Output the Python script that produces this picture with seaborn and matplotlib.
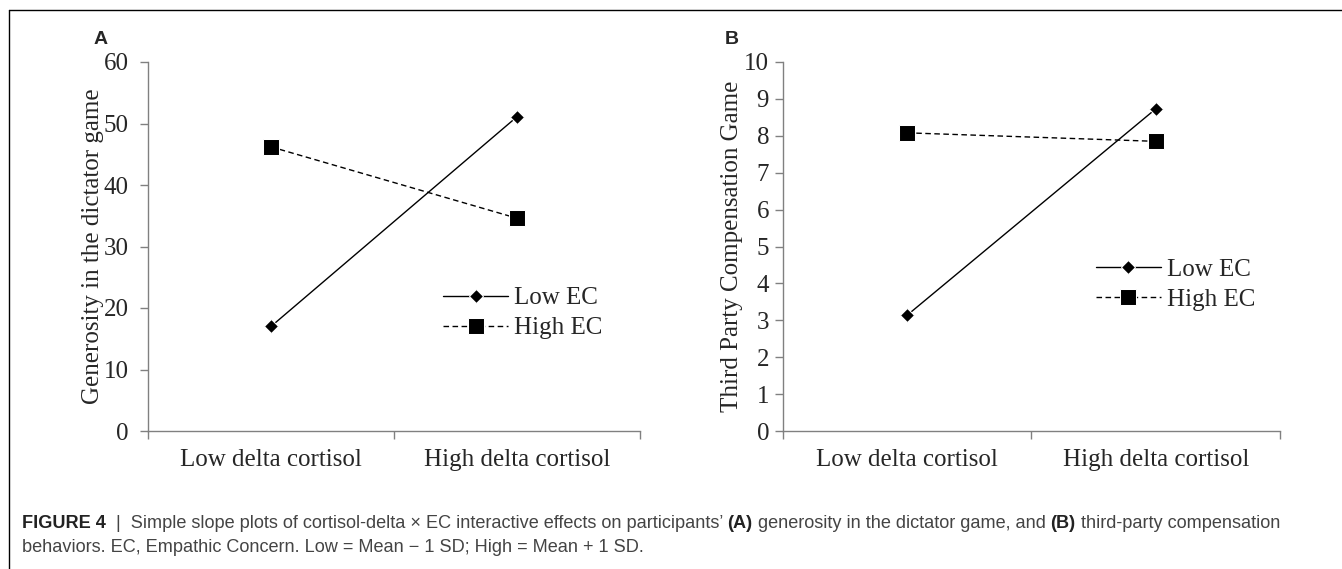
import pandas as pd
import matplotlib.pyplot as plt
import seaborn as sns

# Data
cortisol = ['Low delta cortisol', 'High delta cortisol']
groups = ['Low EC', 'High EC']
dictator_low_ec = [17.0, 51.1]
dictator_high_ec = [46.2, 34.6]
tpc_low_ec = [3.14, 8.73]
tpc_high_ec = [8.08, 7.85]


def make_df(low, high):
    rows = []
    for i, c in enumerate(cortisol):
        rows.append({'x': i, 'cortisol': c, 'group': 'Low EC', 'value': low[i]})
    for i, c in enumerate(cortisol):
        rows.append({'x': i, 'cortisol': c, 'group': 'High EC', 'value': high[i]})
    return pd.DataFrame(rows)


df_a = make_df(dictator_low_ec, dictator_high_ec)
df_b = make_df(tpc_low_ec, tpc_high_ec)

sns.set_style('white')
plt.rcParams['font.family'] = ['Liberation Serif', 'DejaVu Serif']

W, H = 1342, 569
fig = plt.figure(figsize=(W / 100, H / 100), dpi=100)
ax_a = fig.add_axes([148 / W, 1 - 431 / H, (640 - 148) / W, (431 - 62) / H])
ax_b = fig.add_axes([783 / W, 1 - 431 / H, (1280 - 783) / W, (431 - 62) / H])

markers = {'Low EC': 'D', 'High EC': 's'}
dashes = {'Low EC': '', 'High EC': (4, 2.5)}
palette = {'Low EC': 'black', 'High EC': 'black'}


def draw(ax, df, ymax, step, ylabel, legend_xy, ypad, lpad):
    sns.lineplot(data=df, x='x', y='value', hue='group', style='group',
                 markers=markers, dashes=dashes, palette=palette,
                 hue_order=groups, style_order=groups,
                 linewidth=1.0, markersize=9, ax=ax)
    for line in ax.get_lines():
        if line.get_marker() == 's':
            line.set_markersize(11)
        elif line.get_marker() == 'D':
            line.set_markersize(7.5)
    ax.set_xlim(-0.5, 1.5)
    ax.set_ylim(0, ymax)
    ax.set_yticks(range(0, ymax + 1, step))
    ax.set_xticks([-0.5, 0.5, 1.5])
    ax.set_xticklabels([])
    ax.set_xticks([0, 1], minor=True)
    ax.set_xticklabels(cortisol, minor=True)
    ax.tick_params(axis='x', which='major', direction='out', length=6,
                   width=1, color='#808080', bottom=True)
    ax.tick_params(axis='x', which='minor', length=0, pad=13, labelsize=18)
    ax.tick_params(axis='y', direction='out', length=6, width=1,
                   color='#808080', left=True, labelsize=18, pad=ypad)
    for s in ['top', 'right']:
        ax.spines[s].set_visible(False)
    for s in ['left', 'bottom']:
        ax.spines[s].set_color('#808080')
        ax.spines[s].set_linewidth(1.0)
    ax.set_xlabel('')
    ax.set_ylabel(ylabel, fontsize=18, labelpad=lpad)
    handles, labels = ax.get_legend_handles_labels()
    ax.legend(handles=handles, labels=labels, loc='center left',
              bbox_to_anchor=legend_xy, frameon=False, fontsize=18,
              handlelength=2.6, handletextpad=0.25, labelspacing=0.3,
              borderpad=0, borderaxespad=0)


draw(ax_a, df_a, 60, 10, 'Generosity in the dictator game',
     ((443 - 148) / 492, 1 - (313 - 62) / 369), 8, 0)
draw(ax_b, df_b, 10, 1, 'Third Party Compensation Game',
     ((1096 - 783) / 497, 1 - (285 - 62) / 369), 4, 1)

sans = ['Liberation Sans', 'DejaVu Sans']
fig.text(94 / W, 1 - 40 / H, 'A', fontsize=14, fontweight='bold',
         family=sans, va='center', ha='left')
fig.text(725 / W, 1 - 40 / H, 'B', fontsize=14, fontweight='bold',
         family=sans, va='center', ha='left')

# frame lines (left and top)
fig.add_artist(plt.Line2D([9 / W, 9 / W], [0, 1 - 10 / H],
                          color='black', lw=1.0, transform=fig.transFigure))
fig.add_artist(plt.Line2D([9 / W, 1], [1 - 10 / H, 1 - 10 / H],
                          color='black', lw=1.0, transform=fig.transFigure))

# caption, written piece by piece so the bold parts sit inline
caption_1 = [
    ('FIGURE 4', 'bold', '#222222'),
    ('  |  Simple slope plots of cortisol-delta \u00d7 EC interactive effects on participants\u2019 ', 'normal', '#444444'),
    ('(A)', 'bold', '#222222'),
    (' generosity in the dictator game, and ', 'normal', '#444444'),
    ('(B)', 'bold', '#222222'),
    (' third-party compensation', 'normal', '#444444'),
]
caption_2 = 'behaviors. EC, Empathic Concern. Low = Mean \u2212 1 SD; High = Mean + 1 SD.'

renderer = fig.canvas.get_renderer()
cap_size = 13.05
x = 22
y1 = 1 - 524 / H
for txt, weight, col in caption_1:
    t = fig.text(x / W, y1, txt, fontsize=cap_size, fontweight=weight,
                 family=sans, va='center', ha='left', color=col)
    x += t.get_window_extent(renderer).width
fig.text(22 / W, 1 - 548 / H, caption_2, fontsize=cap_size, family=sans,
         va='center', ha='left', color='#444444')

fig.savefig('out.png', dpi=100)
